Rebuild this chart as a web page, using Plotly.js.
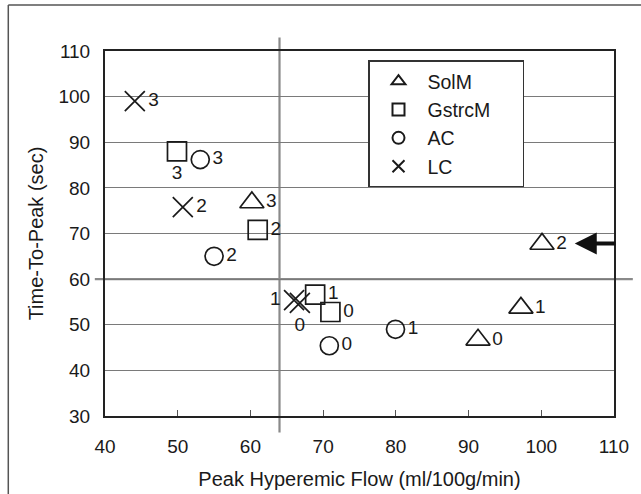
<!DOCTYPE html>
<html>
<head>
<meta charset="utf-8">
<script src="https://cdn.plot.ly/plotly-3.0.1.min.js"></script>
<style>html,body{margin:0;padding:0;background:#fff;}#chart{width:641px;height:494px;}</style>
</head>
<body>
<div id="chart"></div>
<script>
// Labels for each point (stage 0..3)
const pointLabels = ["0", "1", "2", "3"];

// SolM (triangles)
const solmX = [91.3, 97.2, 100.1, 60.2];
const solmY = [46.7, 53.7, 67.7, 76.8];
// GstrcM (squares)
const gstrcX = [71.0, 68.9, 61.0, 49.9];
const gstrcY = [52.8, 56.6, 70.8, 88.0];
// AC (circles)
const acX = [70.85, 79.95, 55.0, 53.1];
const acY = [45.4, 49.0, 65.0, 86.2];
// LC (crosses)
const lcX = [66.8, 66.0, 50.7, 44.1];
const lcY = [54.8, 55.4, 75.8, 99.0];

// Reference lines and arrow
const refX = 64;
const refY = 60;
const arrowHead = [104.6, 67.8];
const arrowTail = [110.4, 67.8];

const xTicks = [40, 50, 60, 70, 80, 90, 100, 110];
const yTicks = [30, 40, 50, 60, 70, 80, 90, 100, 110];

const ink = '#1a1a1a';
const fontFam = 'Liberation Sans, Arial, Helvetica, sans-serif';
const lblFont = {family: fontFam, size: 19, color: ink};

function mk(name, xs, ys, symbol, size, positions) {
  return {
    type: 'scatter', mode: 'markers+text', name: name,
    x: xs, y: ys, text: pointLabels, textposition: positions,
    textfont: lblFont, cliponaxis: false,
    marker: {symbol: symbol, size: size, color: ink, line: {color: ink, width: 1.7}}
  };
}

const traces = [
  mk('SolM', solmX, solmY, 'triangle-up-open', 21, ['middle right','middle right','middle right','middle right']),
  mk('GstrcM\u00a0\u00a0\u00a0\u00a0\u00a0', gstrcX, gstrcY, 'square-open', 19, ['middle right','middle right','middle right','bottom center']),
  mk('AC', acX, acY, 'circle-open', 18, ['middle right','middle right','middle right','middle right']),
  mk('LC', lcX, lcY, 'x-thin-open', 20, ['bottom center','middle left','middle right','middle right'])
];

const layout = {
  width: 641, height: 494,
  margin: {l: 105, r: 27, t: 51, b: 78},
  paper_bgcolor: '#fff', plot_bgcolor: '#fff',
  font: {family: fontFam, color: ink, size: 19},
  showlegend: true,
  legend: {
    x: (368 - 105) / 509, y: 0.974, xanchor: 'left', yanchor: 'top',
    bordercolor: '#333', borderwidth: 1.5, bgcolor: '#fff',
    font: {family: fontFam, size: 19.5, color: ink},
    itemsizing: 'constant', itemwidth: 48
  },
  xaxis: {
    range: [40, 110], tickvals: xTicks, ticktext: xTicks.map(String),
    showgrid: false, zeroline: false,
    showline: true, mirror: true, linecolor: '#222', linewidth: 2,
    ticks: 'inside', ticklen: 6, tickcolor: '#555', tickwidth: 1,
    tickfont: {family: fontFam, size: 19, color: ink},
    ticklabelstandoff: 12,
    title: {text: 'Peak Hyperemic Flow (ml/100g/min)', font: {family: fontFam, size: 20, color: ink}, standoff: 16}
  },
  yaxis: {
    range: [30, 110], tickvals: yTicks, ticktext: yTicks.map(String),
    showgrid: true, gridcolor: '#7a7a7a', gridwidth: 1, zeroline: false,
    showline: true, mirror: true, linecolor: '#222', linewidth: 2,
    ticks: '',
    tickfont: {family: fontFam, size: 19, color: ink},
    ticklabelstandoff: 9,
    title: {text: 'Time-To-Peak (sec)', font: {family: fontFam, size: 20, color: ink}, standoff: 9}
  },
  shapes: [
    {type: 'line', xref: 'x', yref: 'paper', x0: refX, x1: refX, y0: -0.045, y1: 1.037,
     line: {color: '#8a8a8a', width: 2.2}, layer: 'below'},
    {type: 'line', xref: 'paper', yref: 'y', x0: -0.02, x1: 1.037, y0: refY, y1: refY,
     line: {color: '#8a8a8a', width: 2.2}, layer: 'below'},
    // figure border (top and left)
    {type: 'line', xref: 'paper', yref: 'paper', x0: -0.19, x1: 1.1, y0: 1.126, y1: 1.126,
     line: {color: '#555', width: 1.5}},
    {type: 'line', xref: 'paper', yref: 'paper', x0: -0.19, x1: -0.19, y0: 1.126, y1: -0.25,
     line: {color: '#555', width: 1.5}}
  ],
  annotations: [
    {x: arrowHead[0], y: arrowHead[1], ax: arrowTail[0], ay: arrowTail[1],
     xref: 'x', yref: 'y', axref: 'x', ayref: 'y', text: '', showarrow: true,
     arrowhead: 2, arrowsize: 1.1, arrowwidth: 4, arrowcolor: '#111'}
  ]
};

Plotly.newPlot('chart', traces, layout, {displayModeBar: false, staticPlot: true});
</script>
</body>
</html>
